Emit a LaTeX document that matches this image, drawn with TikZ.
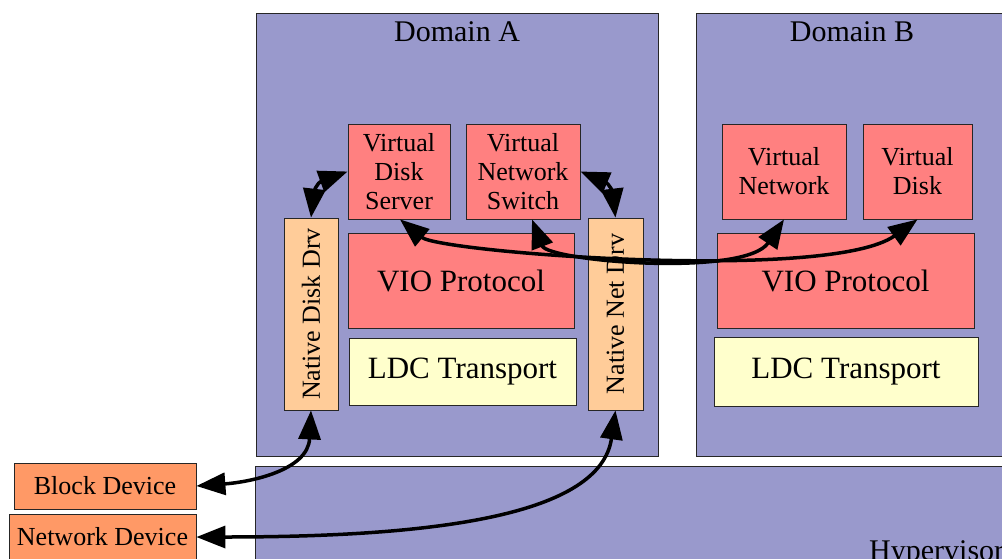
\documentclass[tikz,border=0pt]{standalone}
\usepackage{fontspec}
\setmainfont{Liberation Serif}
\usetikzlibrary{arrows.meta}
\definecolor{domfill}{HTML}{9999CC}
\definecolor{redbox}{HTML}{FF8080}
\definecolor{drvbox}{HTML}{FFCC99}
\definecolor{ldcbox}{HTML}{FFFFCC}
\definecolor{devbox}{HTML}{FF9966}
\tikzset{
  mybox/.style={draw=black!85, line width=0.8pt, rectangle, inner sep=0pt, align=center,
    font=\fontsize{26}{29}\selectfont},
  dombox/.style={mybox, fill=domfill},
  vbox/.style={mybox, fill=redbox},
  bigbox/.style={mybox, font=\fontsize{31}{34}\selectfont},
  drvbox/.style={mybox, fill=drvbox},
  devbox/.style={mybox, fill=devbox},
  conn/.style={line width=3.5pt, {Triangle[length=29pt,width=22pt]}-{Triangle[length=29pt,width=22pt]}},
  titletext/.style={font=\fontsize{30}{34}\selectfont, inner sep=0pt, anchor=base}
}
\begin{document}
\begin{tikzpicture}[x=1pt,y=-1pt]
\useasboundingbox (0,0) rectangle (1002,558);
\clip (0,0) rectangle (1002,558);
% domains and hypervisor
\node[dombox, minimum width=402pt, minimum height=443pt] (domA) at (457,234.5) {};
\node[dombox, minimum width=314pt, minimum height=443pt] (domB) at (853,234.5) {};
\node[dombox, minimum width=755pt, minimum height=104pt] (hyp) at (632.5,518) {};
\node[titletext] (tA) at (457,41) {Domain A};
\node[titletext] (tB) at (852,41) {Domain B};
\node[titletext, anchor=base west] (tH) at (869,560) {Hypervisor};
% domain A
\node[vbox, minimum width=102pt, minimum height=95pt] (vds) at (399,171.5) {Virtual\\Disk\\Server};
\node[vbox, minimum width=114pt, minimum height=95pt] (vns) at (523,171.5) {Virtual\\Network\\Switch};
\node[drvbox, minimum width=54pt, minimum height=192pt] (ndd) at (311,314) {};
\node[rotate=90, inner sep=0pt, font=\fontsize{26}{29}\selectfont] (nddt) at (ndd.center) {Native Disk Drv};
\node[drvbox, minimum width=55pt, minimum height=192pt] (nnd) at (615.5,314) {};
\node[rotate=90, inner sep=0pt, font=\fontsize{26}{29}\selectfont] (nndt) at (nnd.center) {Native Net Drv};
\node[bigbox, fill=redbox, minimum width=226pt, minimum height=95pt] (vioA) at (461,280.5) {VIO Protocol};
\node[bigbox, fill=ldcbox, minimum width=227pt, minimum height=67pt] (ldcA) at (462.5,371.5) {LDC Transport};
% domain B
\node[vbox, minimum width=124pt, minimum height=95pt] (vnB) at (784,171.5) {Virtual\\Network};
\node[vbox, minimum width=109pt, minimum height=95pt] (vdB) at (917.5,171.5) {Virtual\\Disk};
\node[bigbox, fill=redbox, minimum width=257pt, minimum height=95pt] (vioB) at (845.5,280.5) {VIO Protocol};
\node[bigbox, fill=ldcbox, minimum width=264pt, minimum height=69pt] (ldcB) at (846,371.5) {LDC Transport};
% devices
\node[devbox, minimum width=182pt, minimum height=46pt] (blk) at (105,486) {Block Device};
\node[devbox, minimum width=187pt, minimum height=46pt] (net) at (102.5,537) {Network Device};
% connectors
\draw[conn] (ndd.north) .. controls +(3,-26) and +(-30,11) .. (vds.west);
\draw[conn] (nnd.north) .. controls +(-3,-26) and +(28,12) .. (vns.east);
\draw[conn] ([xshift=1pt]vds.south) .. controls +(40,33) and +(-88,63) .. (vdB.south);
\draw[conn] ([xshift=9pt]vns.south) .. controls +(16,42) and +(-39,58) .. (vnB.south);
\draw[conn] (ndd.south) .. controls +(-3,60) and +(54,-4) .. (blk.east);
\draw[conn] (nnd.south) .. controls +(-15,105) and +(240,0) .. (net.east);
\end{tikzpicture}
\end{document}
